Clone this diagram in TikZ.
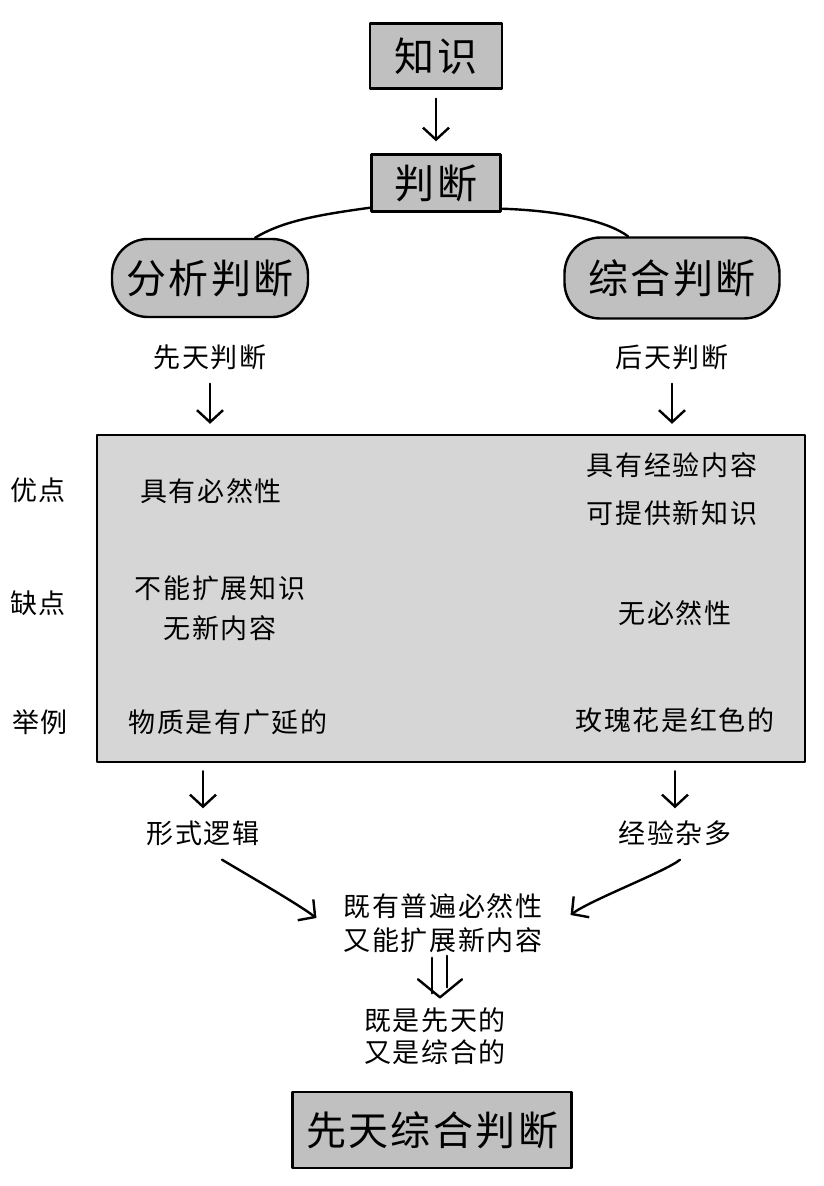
\documentclass[tikz,border=0pt]{standalone}
\usepackage{fontspec}
\newfontfamily\cjk[LetterSpace=6]{Noto Sans CJK SC}
\usetikzlibrary{calc,arrows.meta}
\definecolor{boxgray}{RGB}{192,192,192}
\definecolor{tablegray}{RGB}{214,214,214}
\tikzset{
	pen/.style={line width=2.4pt, line cap=round, line join=round},
	arr/.style={pen, -{Straight Barb[length=12pt,width=26pt]}},
	word/.style={font=\cjk\fontsize{27}{34}\selectfont, align=center, inner sep=2pt},
	titlebox/.style={pen, draw, fill=boxgray, font=\cjk\fontsize{40}{48}\selectfont, inner sep=0pt},
	blob/.style={titlebox, rounded corners=36pt},
}
\begin{document}
\begin{tikzpicture}[x=1pt,y=-1pt]
				\useasboundingbox (0,0) rectangle (824,1186);
				
				\node[titlebox, minimum width=132pt, minimum height=65pt] (zs) at (436,56) {知识};
				\node[titlebox, minimum width=129pt, minimum height=57pt] (pd) at (436,183) {判断};
				\draw[arr, shorten <=9pt, shorten >=12pt] (zs) -- (pd);
				
				\node[blob, minimum width=196pt, minimum height=78pt] (fx) at (210,278) {分析判断};
				\node[blob, minimum width=215pt, minimum height=81pt] (zh) at (672,278) {综合判断};
				\draw[pen] ([yshift=5pt]pd.south west) .. controls +(-60,8) and +(25,-15) .. ([xshift=45pt]fx.north);
				\draw[pen] ([yshift=4pt]pd.south east) .. controls +(60,2) and +(-20,-15) .. ([xshift=-44pt]zh.north);
				
				\node[word] (xt) at (210,357) {先天判断};
				\node[word] (ht) at (672,357) {后天判断};
				
				\node[pen, draw, fill=tablegray, minimum width=708pt, minimum height=327pt] (tbl) at (451,598.5) {};
				\draw[arr, shorten <=12pt, shorten >=10pt] (xt.south) -- (xt.south |- tbl.north);
				\draw[arr, shorten <=12pt, shorten >=10pt] (ht.south) -- (ht.south |- tbl.north);
				
				\node[word] (yd) at (38,490) {优点};
				\node[word] (qd) at (38,603) {缺点};
				\node[word] (jl) at (40,722) {举例};
				
				\node[word] (a1) at (211,491) {具有必然性};
				\node[word] (a2) at (220,608) {不能扩展知识\\[6pt]无新内容};
				\node[word] (a3) at (228,722) {物质是有广延的};
				\node[word] (b1) at (672,489) {具有经验内容\\[14pt]可提供新知识};
				\node[word] (b2) at (675,613) {无必然性};
				\node[word] (b3) at (675,720) {玫瑰花是红色的};
				
				\node[word] (xs) at (203,833) {形式逻辑};
				\node[word] (jz) at (675,833) {经验杂多};
				\draw[arr, shorten <=8pt, shorten >=10pt] (xs.north |- tbl.south) -- (xs.north);
				\draw[arr, shorten <=8pt, shorten >=10pt] (jz.north |- tbl.south) -- (jz.north);
				
				\node[word] (jy) at (443,923) {既有普遍必然性\\又能扩展新内容};
				\draw[arr] ($(xs.south)+(19,12)$) .. controls +(20,12) and +(-20,-15) .. ($(jy.west)+(-25,-5)$);
				\draw[arr] ($(jz.south)+(5,12)$) .. controls +(-15,12) and +(20,-15) .. ($(jy.east)+(26,-8)$);
				
				\node[word] (js) at (435,1036) {既是先天的\\[-2pt]又是综合的};
				\draw[pen] ($(jy.south)+(-11,3)$) -- ($(js.north)+(-3,-12)$);
				\draw[pen] ($(jy.south)+(4,1)$) -- ($(js.north)+(12,-18)$);
				\draw[pen] ($(js.north)+(-17,-26)$) -- ($(js.north)+(5,-8)$) -- ($(js.north)+(27,-26)$);
				
				\node[titlebox, minimum width=279pt, minimum height=76pt] (xtzh) at (432,1130) {先天综合判断};
			\end{tikzpicture}
\end{document}
